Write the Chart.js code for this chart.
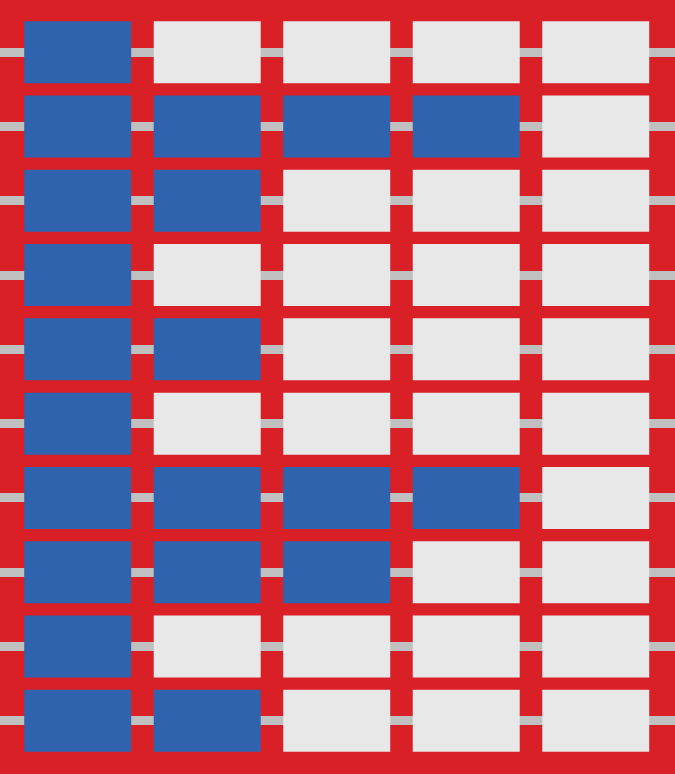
<!DOCTYPE html>
<html>
<head>
<meta charset="utf-8">
<script src="https://cdn.jsdelivr.net/npm/chart.js@4"></script>
<style>
  html, body { margin: 0; padding: 0; background: #d92027; }
  #wrap { width: 675px; height: 774px; }
</style>
</head>
<body>
<div id="wrap"><canvas id="chart"></canvas></div>
<script>
// one row per category, number of filled cells in each row
const rows = ["1", "2", "3", "4", "5", "6", "7", "8", "9", "10"]
const filled = [1, 4, 2, 1, 2, 1, 4, 3, 1, 2]
const columns = [0, 1, 2, 3, 4]

const blue = "#2f63ad"
const grey = "#e8e8e8"

const datasets = columns.map(c => ({
    label: "col " + (c + 1),
    data: rows.map(() => [c - 0.413, c + 0.413]),
    backgroundColor: filled.map(n => c < n ? blue : grey),
    borderWidth: 0,
    grouped: false,
    barPercentage: 0.835,
    categoryPercentage: 1
}))

const ctx = document.getElementById("chart").getContext("2d")

new Chart(ctx, {
    type: "bar",
    data: {
        labels: rows,
        datasets: datasets
    },
    options: {
        indexAxis: "y",
        responsive: true,
        maintainAspectRatio: false,
        animation: false,
        layout: { padding: { top: 15, bottom: 16, left: 0, right: 0 } },
        plugins: {
            legend: { display: false },
            tooltip: { enabled: false }
        },
        scales: {
            x: {
                type: "linear",
                min: -0.6,
                max: 4.612,
                display: false
            },
            y: {
                type: "category",
                offset: true,
                border: { display: false },
                ticks: { display: false },
                grid: {
                    offset: false,
                    color: "#c0c0c0",
                    lineWidth: 9,
                    drawTicks: false
                }
            }
        }
    }
})
</script>
</body>
</html>
